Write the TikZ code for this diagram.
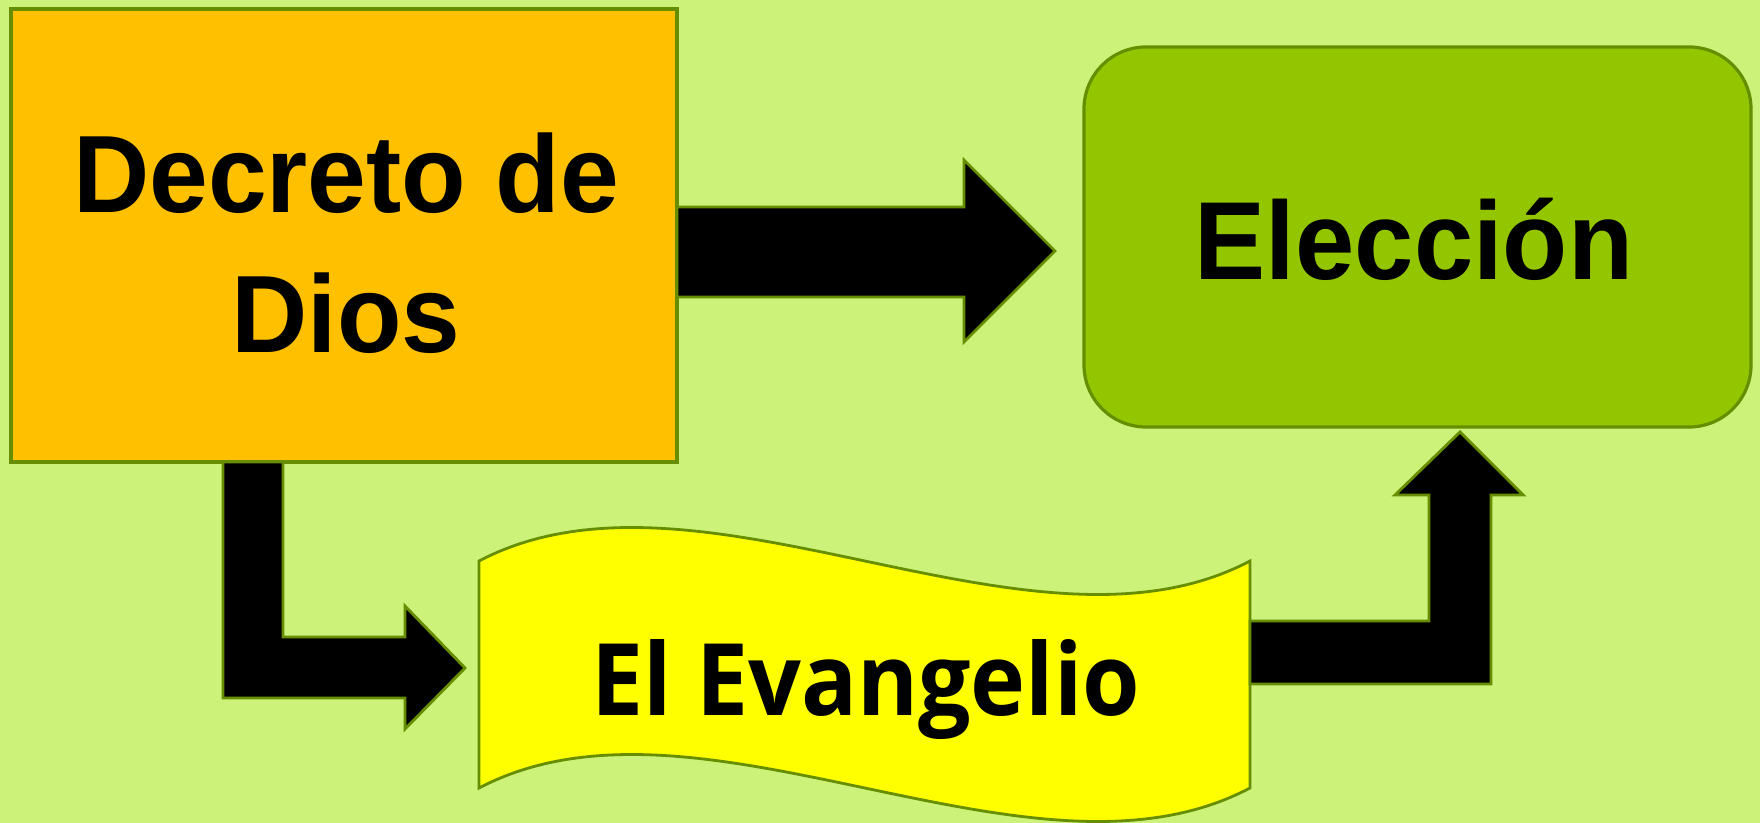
\documentclass[tikz,border=0pt]{standalone}
\usepackage{fontspec}
\setmainfont[FakeStretch=0.96]{Liberation Sans}
\newfontfamily\evfont[FakeStretch=0.93]{Open Sans}
\usetikzlibrary{positioning}

\definecolor{fondo}{RGB}{204,242,122}
\definecolor{naranja}{RGB}{255,192,0}
\definecolor{verde}{RGB}{148,198,0}
\definecolor{amarillo}{RGB}{255,255,0}
\definecolor{borde}{RGB}{102,142,0}

\tikzset{
  caja/.style={draw=borde, line width=1.6pt, inner sep=0pt, outer sep=0pt},
  texto/.style={font=\fontsize{55}{70}\selectfont\bfseries, align=center},
  flecha/.style={draw=borde, line width=1.4pt, fill=black, line join=miter},
}

\begin{document}
\begin{tikzpicture}[x=0.5pt,y=-0.5pt]
  % Background
  \fill[fondo] (0,0) rectangle (1760,823);
  \useasboundingbox (0,0) rectangle (1760,823);

  % Boxes
  \node[caja, fill=naranja, minimum width=333pt, minimum height=226.5pt]
    (dios) at (344,235.5) {};
  \node[texto] (diostxt) at (346,243) {Decreto de\\Dios};
  \node[caja, fill=verde, rounded corners=31pt, minimum width=333.5pt, minimum height=190pt]
    (eleccion) at (1417.5,237) {};
  \node[texto, font=\fontsize{55.5}{70}\selectfont\bfseries]
    (elecciontxt) at (1414,239.5) {Elección};

  % Banner for the gospel
  \coordinate (evl) at (479,674);
  \coordinate (evr) at (1250,674);
  \draw[borde, line width=1.4pt, fill=amarillo]
    (479,561) .. controls (700,445) and (1030,677) .. (1250,561)
    -- (1250,788) .. controls (1030,904) and (700,672) .. (479,788) -- cycle;
  \node[font=\evfont\fontsize{50}{60}\selectfont\bfseries] (evangelio) at (866,690) {El Evangelio};

  % Arrows
  \draw[flecha] (dios.east |- 0,207) -- (964,207) -- (964,160)
    -- ([xshift=-14.5pt]eleccion.west |- 0,251) -- (964,342) -- (964,297)
    -- (dios.east |- 0,297) -- cycle;
  \draw[flecha] (223,0 |- dios.south) -- (223,698) -- (405,698) -- (405,729)
    -- ([xshift=-7pt]evl |- 0,668) -- (405,606) -- (405,637) -- (283,637)
    -- (283,0 |- dios.south) -- cycle;
  \draw[flecha] (evr |- 0,621) -- (1429,621) -- (1429,495) -- (1395,495)
    -- ([yshift=-2.5pt]1460,0 |- eleccion.south) -- (1523,495) -- (1491,495)
    -- (1491,684) -- (evr |- 0,684) -- cycle;
\end{tikzpicture}
\end{document}
